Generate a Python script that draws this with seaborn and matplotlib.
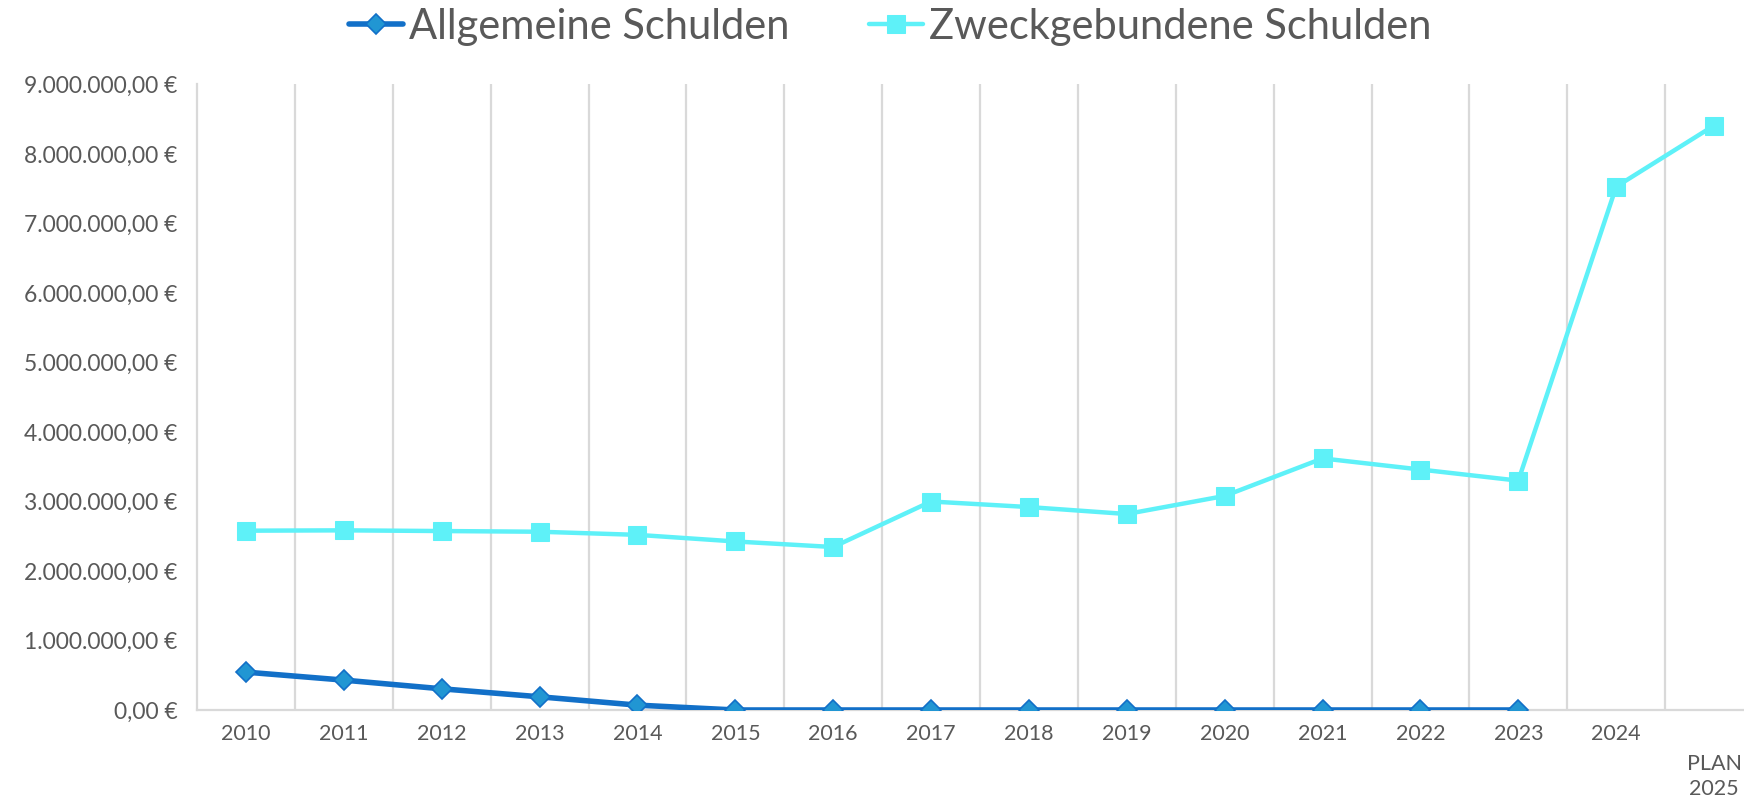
import numpy as np
import pandas as pd
import matplotlib
matplotlib.use("Agg")
import matplotlib.pyplot as plt
import matplotlib.transforms as mtransforms
from matplotlib.ticker import FuncFormatter, FixedLocator
import seaborn as sns

# ---- data ----
jahre = ["2010", "2011", "2012", "2013", "2014", "2015", "2016", "2017",
         "2018", "2019", "2020", "2021", "2022", "2023", "2024", "PLAN\n2025"]
allgemeine = [545000, 430000, 305000, 190000, 70000, 0, 0, 0,
              0, 0, 0, 0, 0, 0, np.nan, np.nan]
zweckgebunden = [2580000, 2585000, 2575000, 2565000, 2520000, 2425000, 2345000, 3000000,
                 2920000, 2820000, 3080000, 3620000, 3460000, 3300000, 7530000, 8410000]
serien = ["Allgemeine Schulden", "Zweckgebundene Schulden"]
y_ticks = [0, 1e6, 2e6, 3e6, 4e6, 5e6, 6e6, 7e6, 8e6, 9e6]

df = pd.DataFrame({
    "Jahr": jahre * 2,
    "Betrag": allgemeine + zweckgebunden,
    "Reihe": [serien[0]] * len(jahre) + [serien[1]] * len(jahre),
})
df["x"] = list(range(len(jahre))) * 2

sns.set_theme(style="white")
plt.rcParams["font.family"] = ["Lato", "DejaVu Sans"]

text_col = "#595959"
grid_col = "#D9D9D9"
col_a_line = "#1270C8"
col_a_fill = "#2196D3"
col_z = "#5EF1F8"

fig = plt.figure(figsize=(17.44, 8.01), dpi=100)
ax = fig.add_axes([197 / 1744, 1 - 710 / 801, 1566 / 1744, (710 - 84.5) / 801])

sns.lineplot(data=df[df["Reihe"] == serien[1]], x="x", y="Betrag", ax=ax,
             color=col_z, linewidth=3.2, marker="s", markersize=12.5,
             markerfacecolor=col_z, markeredgecolor=col_z, sort=False,
             label=serien[1], zorder=3)
sns.lineplot(data=df[df["Reihe"] == serien[0]].dropna(), x="x", y="Betrag", ax=ax,
             color=col_a_line, linewidth=4, marker="D", markersize=10,
             markerfacecolor=col_a_fill, markeredgecolor=col_a_line, markeredgewidth=1.2,
             sort=False, label=serien[0], zorder=4)

ax.set_xlim(-0.5, len(jahre) - 0.5)
ax.set_ylim(0, 9e6)
ax.set_xlabel("")
ax.set_ylabel("")

# category ticks & boundary gridlines
ax.set_xticks(range(len(jahre)))
ax.set_xticklabels(jahre, linespacing=1.3)
ax.xaxis.set_minor_locator(FixedLocator(np.arange(0.5, len(jahre) - 1, 1.0)))
ax.grid(False)
ax.grid(True, axis="x", which="minor", color=grid_col, linewidth=1.6)
ax.tick_params(axis="x", which="both", length=0, pad=10, labelsize=15.5, labelcolor=text_col)

ax.set_yticks(y_ticks)
def de_fmt(v, pos):
    s = f"{v:,.2f}".replace(",", "X").replace(".", ",").replace("X", ".")
    return s + " €"
ax.yaxis.set_major_formatter(FuncFormatter(de_fmt))
ax.tick_params(axis="y", length=0, pad=14, labelsize=16.5, labelcolor=text_col)

for side in ["top", "right"]:
    ax.spines[side].set_visible(False)
for side in ["left", "bottom"]:
    ax.spines[side].set_color(grid_col)
    ax.spines[side].set_linewidth(1.6)

# shift the last (two-line) label down
lbl = ax.get_xticklabels()[-1]
lbl.set_transform(lbl.get_transform() + mtransforms.ScaledTranslation(0, -22 / 72, fig.dpi_scale_trans))

handles, labels = ax.get_legend_handles_labels()
order = [labels.index(serien[0]), labels.index(serien[1])]
leg = fig.legend([handles[i] for i in order], [labels[i] for i in order],
                 loc="center", bbox_to_anchor=(890 / 1744, 1 - 27 / 801), ncol=2,
                 frameon=False, prop={"size": 30},
                 handlelength=1.3, handletextpad=0.15, columnspacing=1.9)
for t in leg.get_texts():
    t.set_color(text_col)
if ax.get_legend():
    ax.get_legend().remove()

fig.savefig("out.png", dpi=100)
